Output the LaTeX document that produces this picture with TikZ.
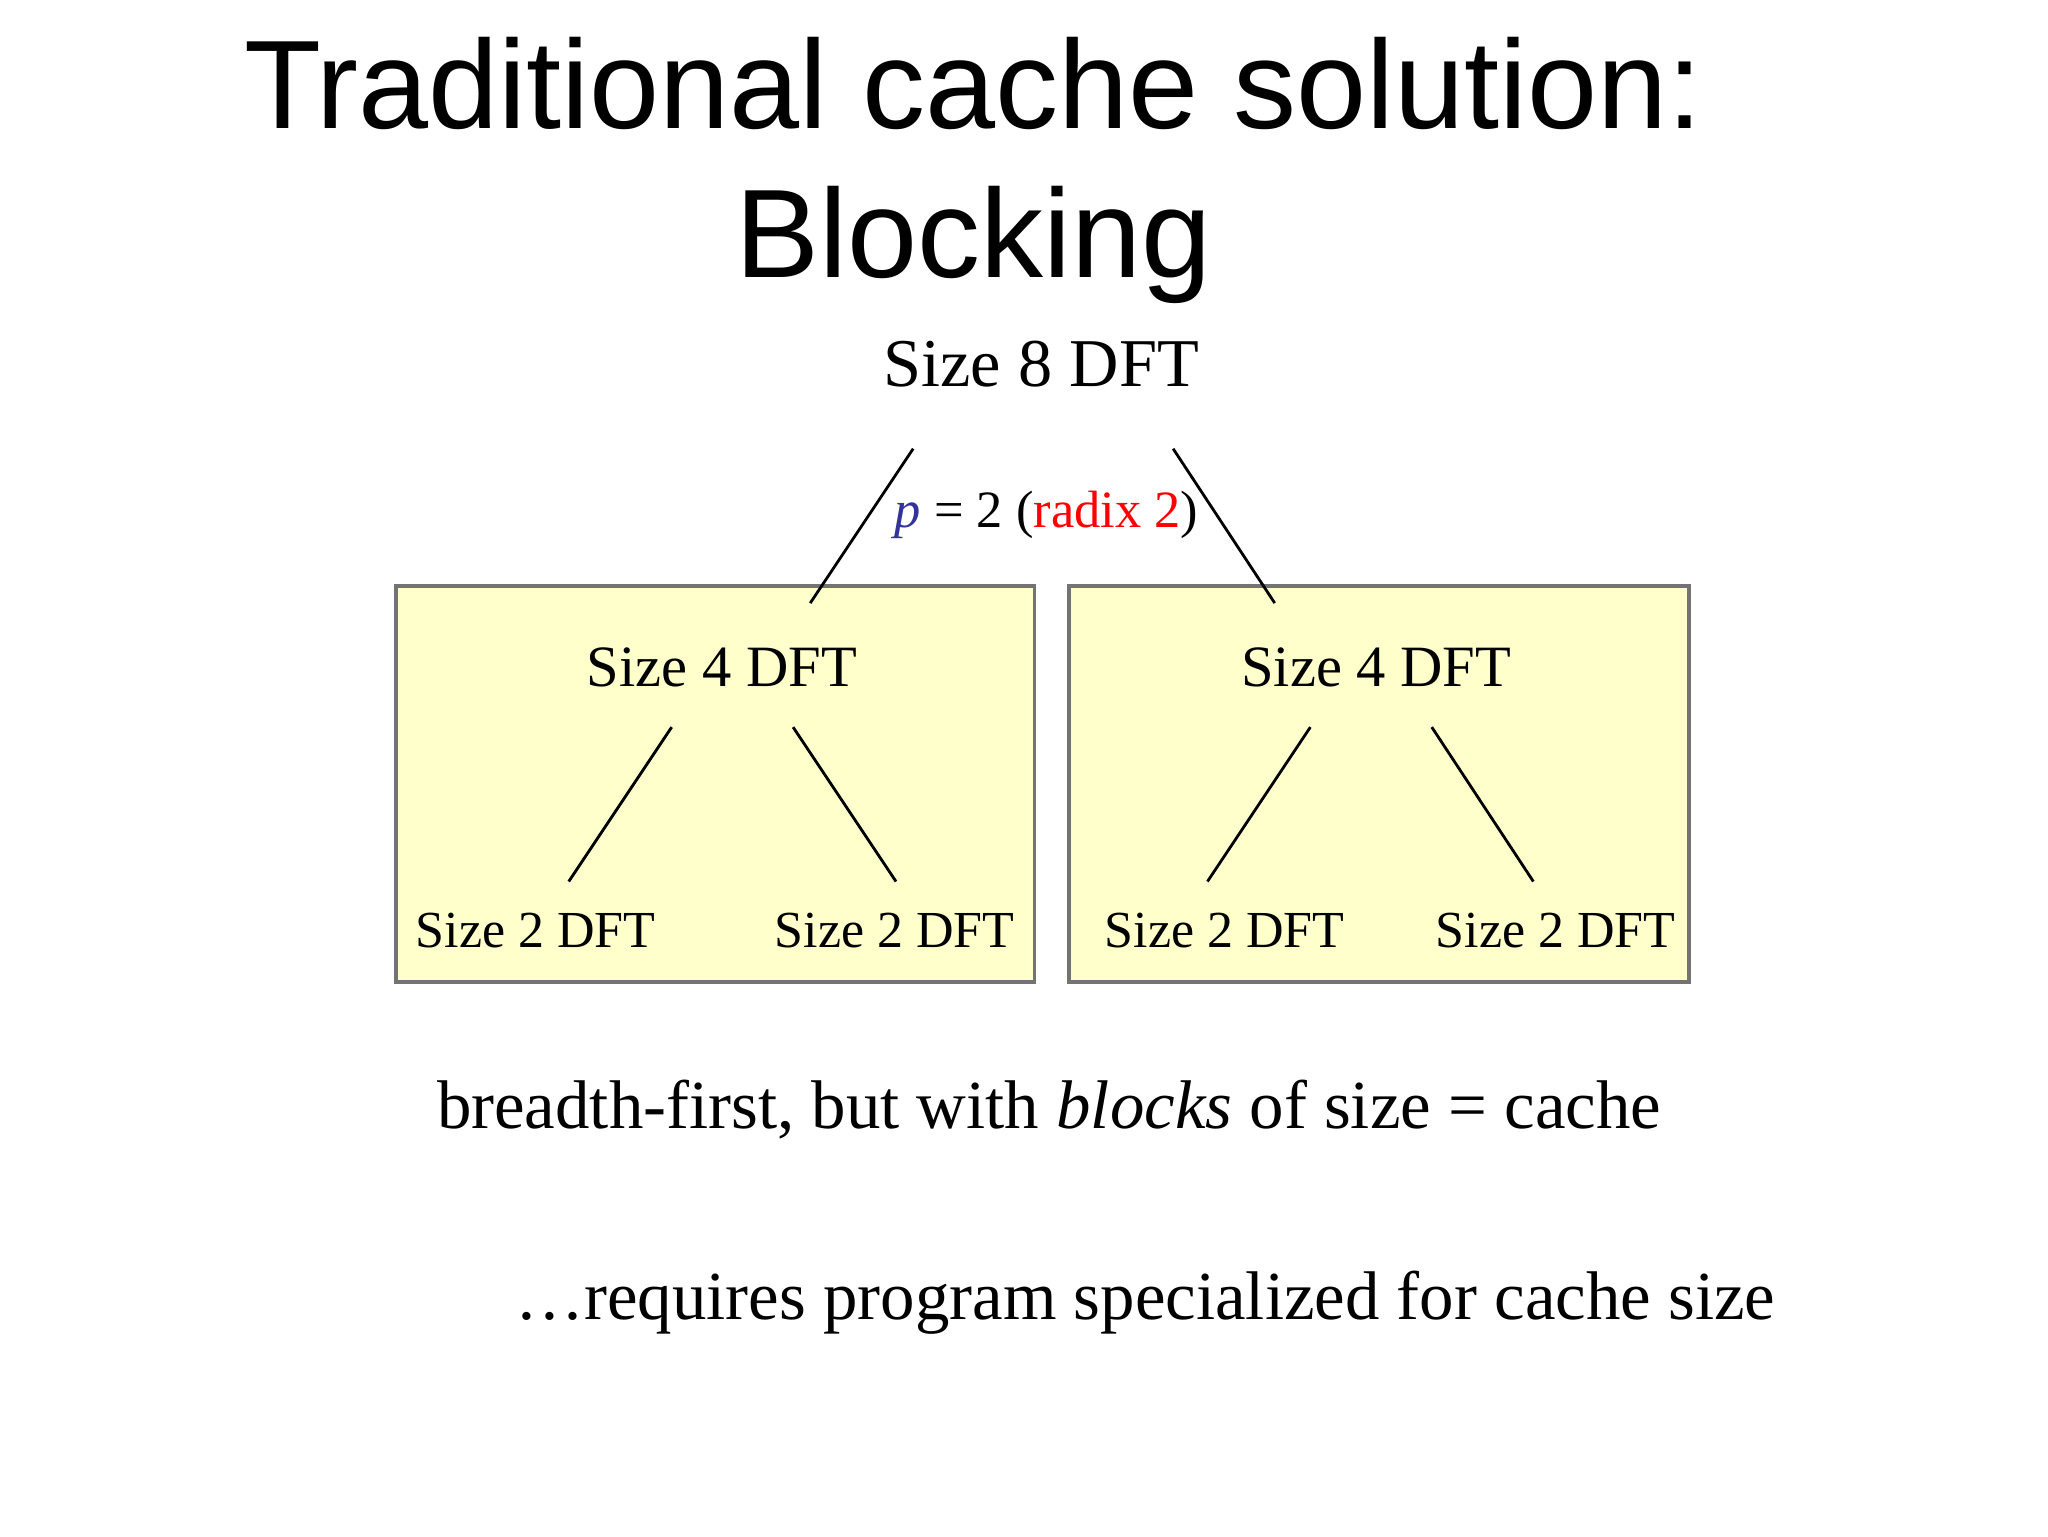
\documentclass[tikz,border=0pt]{standalone}
\usepackage{fontspec}
\setmainfont{Liberation Serif}
\newfontfamily\titlefont{Liberation Sans}
\definecolor{boxfill}{HTML}{FFFFCC}
\definecolor{pblue}{HTML}{333399}
\begin{document}
\begin{tikzpicture}[x=0.0099cm,y=-0.0099cm,
  box/.style={draw=black!55,fill=boxfill,line width=0.8pt},
  lbl/.style={inner sep=0pt,anchor=base},
  ln/.style={line width=0.6pt}]
\useasboundingbox (0,0) rectangle (1552,1164);
\node[lbl,font=\titlefont\fontsize{26.9}{30}\selectfont] (t1) at (738,97) {Traditional cache solution:};
\node[lbl,font=\titlefont\fontsize{26.9}{30}\selectfont] (t2) at (738,210) {Blocking};
\node[lbl,font=\fontsize{14.6}{18}\selectfont] (s8) at (789,293) {Size 8 DFT};
\node[lbl,font=\fontsize{11.2}{14}\selectfont] (p) at (793,400) {\textcolor{pblue}{\itshape p} = 2 (\textcolor{red}{radix 2})};
\draw[box] (300,444) rectangle (784,744);
\draw[box] (810,444) rectangle (1280,744);
\node[lbl,font=\fontsize{12.5}{15}\selectfont] (a4) at (547,520) {Size 4 DFT};
\node[lbl,font=\fontsize{12.5}{15}\selectfont] (b4) at (1043,520) {Size 4 DFT};
\node[lbl,font=\fontsize{11.1}{14}\selectfont] (a2l) at (406,718) {Size 2 DFT};
\node[lbl,font=\fontsize{11.1}{14}\selectfont] (a2r) at (678,718) {Size 2 DFT};
\node[lbl,font=\fontsize{11.1}{14}\selectfont] (b2l) at (928,718) {Size 2 DFT};
\node[lbl,font=\fontsize{11.1}{14}\selectfont] (b2r) at (1179,718) {Size 2 DFT};
\coordinate (c1) at (692,340); \coordinate (c2) at (614,457);
\coordinate (c3) at (889,340); \coordinate (c4) at (966,457);
\coordinate (d1) at (509,551); \coordinate (d2) at (431,668);
\coordinate (d3) at (601,551); \coordinate (d4) at (679,668);
\coordinate (e1) at (993,551); \coordinate (e2) at (915,668);
\coordinate (e3) at (1085,551); \coordinate (e4) at (1162,668);
\draw[ln] (c1)--(c2); \draw[ln] (c3)--(c4);
\draw[ln] (d1)--(d2); \draw[ln] (d3)--(d4);
\draw[ln] (e1)--(e2); \draw[ln] (e3)--(e4);
\node[lbl,font=\fontsize{14.7}{18}\selectfont] (bf) at (795,855) {breadth-first, but with \textit{blocks} of size = cache};
\node[lbl,font=\fontsize{14.7}{18}\selectfont] (rq) at (868,1000) {\ldots requires program specialized for cache size};
\end{tikzpicture}
\end{document}
